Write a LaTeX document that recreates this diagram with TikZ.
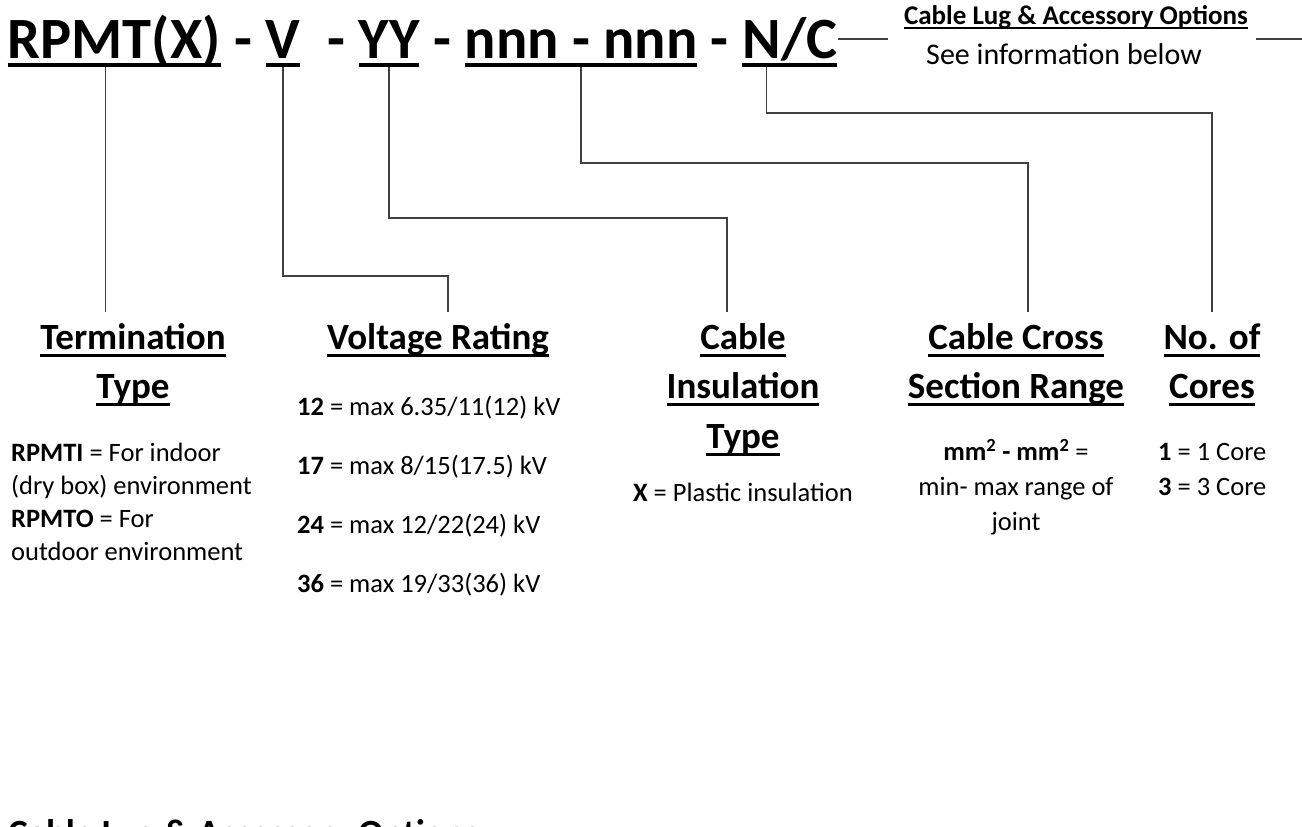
\documentclass[tikz,border=0pt]{standalone}
\usepackage{fontspec}
\setmainfont{Carlito}
\usetikzlibrary{positioning,calc}

\newlength{\uldp}
\newlength{\ulth}
\newcommand{\ulset}[2]{\setlength{\uldp}{#1}\setlength{\ulth}{#2}}
\newcommand{\ulword}[1]{\setbox0\hbox{#1}\rlap{\rule[-\uldp]{\wd0}{\ulth}}\box0}
\newcommand{\hs}{\rule{0pt}{28pt}}
\newcommand{\bs}{\rule{0pt}{23pt}}

\begin{document}
\begin{tikzpicture}[x=1pt,y=-1pt,
  every node/.style={inner sep=0pt},
  big/.style={font=\fontsize{58.5}{70}\selectfont\bfseries\ulset{8.75pt}{3.5pt}},
  head/.style={font=\fontsize{37}{49.5}\selectfont\bfseries\ulset{7.5pt}{3pt},align=center,anchor=north},
  txt/.style={font=\fontsize{26.5}{33}\selectfont},
  wire/.style={draw=black!75,line width=1.2pt,shorten >=9pt}]
  \useasboundingbox[fill=white] (0,0) rectangle (1302,827);

  % code line
  \node[big,anchor=base west] (rpmt) at (7.5,58) {\ulword{RPMT(X)}};
  \node[big,base right=0pt of rpmt] (d1) {\ -\ \mbox{}};
  \node[big,base right=0pt of d1] (volt) {\ulword{V}};
  \node[big,base right=0pt of volt] (d2) {\ \ -\ \mbox{}};
  \node[big,base right=0pt of d2] (insul) {\ulword{YY}};
  \node[big,base right=0pt of insul] (d3) {\ -\ \mbox{}};
  \node[big,base right=0pt of d3] (xsec) {\ulword{nnn - nnn}};
  \node[big,base right=0pt of xsec] (d4) {\ -\ \mbox{}};
  \node[big,base right=0pt of d4] (cores) {\ulword{N/C}};

  \node[anchor=base,font=\fontsize{27}{30}\selectfont\bfseries\ulset{5pt}{2pt}] (lugtop) at (1076,24) {\ulword{Cable Lug \& Accessory Options}};
  \node[anchor=base,font=\fontsize{30}{33}\selectfont] (lugsee) at (1064,64) {See information below};
  \draw[wire,shorten >=0pt] ([xshift=1pt]cores.east |- 0,39) -- ++(50,0);
  \draw[wire,shorten >=0pt] ([xshift=8pt]lugtop.east |- 0,39) -- (1302,39);

  % headings
  \node[head] (hterm) at (133,321) {\hs\ulword{Termination}\\\ulword{Type}};
  \node[head] (hvolt) at (438,321) {\hs\ulword{Voltage Rating}};
  \node[head] (hins) at (743,321) {\hs\ulword{Cable}\\\ulword{Insulation}\\\ulword{Type}};
  \node[head] (hxsec) at (1016,321) {\hs\ulword{Cable Cross}\\\ulword{Section Range}};
  \node[head] (hcore) at (1212,321) {\hs\ulword{No. of}\\\ulword{Cores}};

  % connectors
  \draw[wire] ([xshift=-9pt]rpmt.south) -- ([xshift=-9pt]rpmt.south |- hterm.north);
  \draw[wire] (volt.south) -- ++(0,209) -| ([xshift=10pt]hvolt.north);
  \draw[wire] (insul.south) -- ++(0,151) -| ([xshift=-16pt]hins.north);
  \draw[wire] (xsec.south) -- ++(0,96) -| ([xshift=12pt]hxsec.north);
  \draw[wire] ([xshift=-23pt]cores.south) -- ++(0,46) -| (hcore.north);

  % details
  \node[txt,align=left,anchor=north west] (tterm) at (11,438)
    {\bs\textbf{RPMTI} = For indoor\\(dry box) environment\\\textbf{RPMTO} = For\\outdoor environment};
  \foreach \v/\r [count=\i] in {12/{6.35/11(12)},17/{8/15(17.5)},24/{12/22(24)},36/{19/33(36)}}
    \node[txt,anchor=base west] (v\v) at (297,{415+59*(\i-1)}) {\textbf{\v} = max \r\ kV};
  \node[txt,anchor=base] (tins) at (743,501) {\textbf{X} = Plastic insulation};
  \node[txt,align=center,anchor=north,font=\fontsize{26.5}{35}\selectfont] (txsec) at (1016,437)
    {\bs\textbf{mm\textsuperscript{2} - mm\textsuperscript{2}} =\\min- max range of\\joint};
  \node[txt,align=left,anchor=north west,font=\fontsize{26.5}{35}\selectfont] (tcore) at (1158,437)
    {\bs\textbf{1} = 1 Core\\\textbf{3} = 3 Core};

  \node[anchor=base west,font=\fontsize{37}{40}\selectfont\bfseries] (lugopt) at (8,845) {Cable Lug \& Accessory Options};
\end{tikzpicture}
\end{document}
